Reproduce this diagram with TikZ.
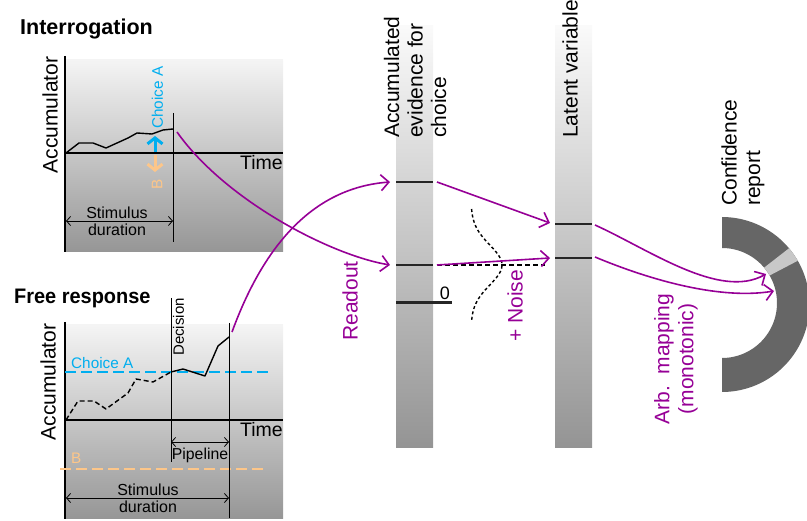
\documentclass[tikz,border=0pt]{standalone}
\usepackage{fontspec}
\setmainfont{Liberation Sans}
\usetikzlibrary{arrows.meta}
\definecolor{mag}{RGB}{150,0,150}
\definecolor{cyanA}{RGB}{0,174,239}
\definecolor{orB}{RGB}{253,198,137}
\definecolor{arcdark}{RGB}{102,102,102}
\definecolor{arclight}{RGB}{200,200,200}
\definecolor{boxtop}{RGB}{244,244,244}
\definecolor{boxbot}{RGB}{150,150,150}
\definecolor{bartop}{RGB}{250,250,250}
\definecolor{barbot}{RGB}{148,148,148}
\tikzset{
  fs/.style={font=\fontsize{#1}{24}\selectfont},
  lbl/.style={inner sep=0pt},
  axisline/.style={line width=2.4pt},
  trace/.style={line width=1.4pt, line join=round},
  thin1/.style={line width=0.8pt},
  dimarrow/.style={line width=0.8pt, {Straight Barb[length=4pt,width=9pt]}-{Straight Barb[length=4pt,width=9pt]}},
  magarrow/.style={mag, line width=1.6pt, -{Straight Barb[length=8pt,width=16pt]}},
  barline/.style={line width=1.5pt, black!85},
}
\begin{document}
\begin{tikzpicture}[x=1pt,y=-1pt]
\useasboundingbox (0,0) rectangle (807,521);

% ---------------- Interrogation ----------------
\node[lbl, anchor=base west, fs=21.5] (t1) at (20,35) {\bfseries Interrogation};
\shade[top color=boxtop, bottom color=boxbot] (65,60) rectangle (283,252);
\draw[axisline] (65,56) -- (65,252);
\draw[axisline] (65,153) -- (283,153);
\node[lbl, anchor=base west, fs=19.5] (time1) at (240,170) {Time};
\node[lbl, rotate=90, fs=21] (acc1) at (50,115) {Accumulator};
\draw[trace] (66,153) -- (79,143) -- (93,143) -- (106,148) -- (117,143) -- (128,138) -- (137,133) -- (152,134) -- (163,130) -- (173,129);
\coordinate (iend) at (177,132);
\draw[thin1] (173,113) -- (173,242);
\draw[cyanA, line width=3pt, -{Straight Barb[length=6pt,width=15pt]}] (155,152) -- (155,136);
\draw[orB, line width=3pt, -{Straight Barb[length=6pt,width=15pt]}] (155,155) -- (155,172);
\node[lbl, rotate=90, anchor=west, fs=15.3, text=cyanA] (chA1) at (157.5,129) {Choice A};
\node[lbl, rotate=90, fs=15.3, text=orB] (chB1) at (157,184) {B};
\draw[dimarrow] (66,221) -- (173,221);
\node[lbl, align=center, font=\fontsize{16}{17}\selectfont] (sd1) at (117,221) {Stimulus\\duration};

% ---------------- Free response ----------------
\node[lbl, anchor=base west, fs=21] (t2) at (14,304) {\scalebox{0.95}[1]{\bfseries Free response}};
\shade[top color=boxtop, bottom color=boxbot] (65,325) rectangle (283,519);
\draw[axisline] (65,322) -- (65,519);
\draw[axisline] (65,420) -- (283,420);
\node[lbl, anchor=base west, fs=19.5] (time2) at (240,437) {Time};
\node[lbl, rotate=90, fs=21] (acc2) at (48,382) {Accumulator};
\draw[cyanA, line width=1.5pt, dash pattern=on 11pt off 5pt] (65,372) -- (268,372);
\draw[orB, line width=1.5pt, dash pattern=on 11pt off 5pt] (60,469) -- (268,469);
\node[lbl, anchor=base west, fs=15.3, text=cyanA] (chA2) at (71,369) {Choice A};
\node[lbl, anchor=base west, fs=15.3, text=orB] (chB2) at (71,464) {B};
\draw[trace, dash pattern=on 5pt off 3pt] (66,420) -- (78,401) -- (94,401) -- (106,409) -- (128,393) -- (136,379) -- (153,382) -- (171,372);
\draw[trace] (171,372) -- (183,369) -- (205,376) -- (218,346) -- (229,337);
\coordinate (fend) at (232,332);
\draw[thin1] (171,298) -- (171,462);
\draw[thin1] (229,323) -- (229,518);
\node[lbl, rotate=90, fs=15] (dec) at (178.5,327) {Decision};
\draw[dimarrow] (171,442) -- (229,442);
\node[lbl, fs=15.8] (pipe) at (200,455) {Pipeline};
\draw[dimarrow] (66,498) -- (229,498);
\node[lbl, align=center, font=\fontsize{16}{17}\selectfont] (sd2) at (148,498) {Stimulus\\duration};

% ---------------- Accumulated evidence bar ----------------
\shade[top color=bartop, bottom color=barbot] (396,26) rectangle (433,448);
\draw[barline] (396,182) -- (433,182);
\draw[barline] (396,265) -- (433,265);
\draw[line width=3pt, black!85] (396,303) -- (452,303);
\coordinate (evA) at (390,182);
\coordinate (evB) at (390,265);
\coordinate (evAo) at (437,182);
\coordinate (evBo) at (437,265);
\node[lbl, fs=18] (zero) at (445,293) {0};
\node[lbl, rotate=90, anchor=west, align=left, font=\fontsize{21}{23.5}\selectfont] (accev) at (415,138) {Accumulated\\evidence for\\choice};

% ---------------- Latent variable bar ----------------
\shade[top color=bartop, bottom color=barbot] (555,26) rectangle (592,448);
\draw[barline] (555,224) -- (592,224);
\draw[barline] (555,258) -- (592,258);
\coordinate (laA) at (550,223);
\coordinate (laB) at (550,258);
\coordinate (laAo) at (595,225);
\coordinate (laBo) at (595,257);
\node[lbl, rotate=90, anchor=west, fs=21] (latent) at (570,138) {Latent variable};

% noise
\draw[line width=1.4pt, dash pattern=on 5pt off 3pt] (437,265) -- (545,265);
\draw[line width=1.4pt, dash pattern=on 3pt off 2.5pt] plot[domain=209:322, samples=60, smooth] ({471+31*exp(-((\x-265)^2)/800)}, \x);

% ---------------- Confidence report ----------------
\fill[arcdark] plot[domain=90:-90, samples=80] ({722+87.5*cos(\x)},{304.5-87.5*sin(\x)}) -- plot[domain=-90:90, samples=80] ({722+55*cos(\x)},{303-55*sin(\x)}) -- cycle;
\fill[arclight] plot[domain=40:30, samples=10] ({722+87.5*cos(\x)},{304.5-87.5*sin(\x)}) -- plot[domain=30:40, samples=10] ({722+55*cos(\x)},{303-55*sin(\x)}) -- cycle;
\coordinate (cfA) at (766,274);
\coordinate (cfB) at (774,291);
\node[lbl, rotate=90, anchor=west, align=left, font=\fontsize{21}{23.5}\selectfont] (conf) at (743,206) {Confidence\\report};

% ---------------- purple connectors ----------------
\draw[magarrow] (iend) .. controls (225,200) and (330,255) .. (evB);
\draw[magarrow] (fend) .. controls (262,250) and (310,188) .. (evA);
\draw[magarrow] (evAo) -- (laA);
\draw[magarrow] (evBo) -- (laB);
\draw[magarrow] (laAo) .. controls (650,250) and (720,300) .. (cfA);
\draw[magarrow] (laBo) .. controls (650,280) and (720,300) .. (cfB);

\node[lbl, rotate=90, fs=21, text=mag] (readout) at (350,301) {Readout};
\node[lbl, rotate=90, fs=21, text=mag] (noise) at (515,306) {+ Noise};
\node[lbl, rotate=90, align=center, text=mag, font=\fontsize{21}{24}\selectfont] (arb) at (676,359) {Arb.\ \ mapping\\(monotonic)};
\end{tikzpicture}
\end{document}
